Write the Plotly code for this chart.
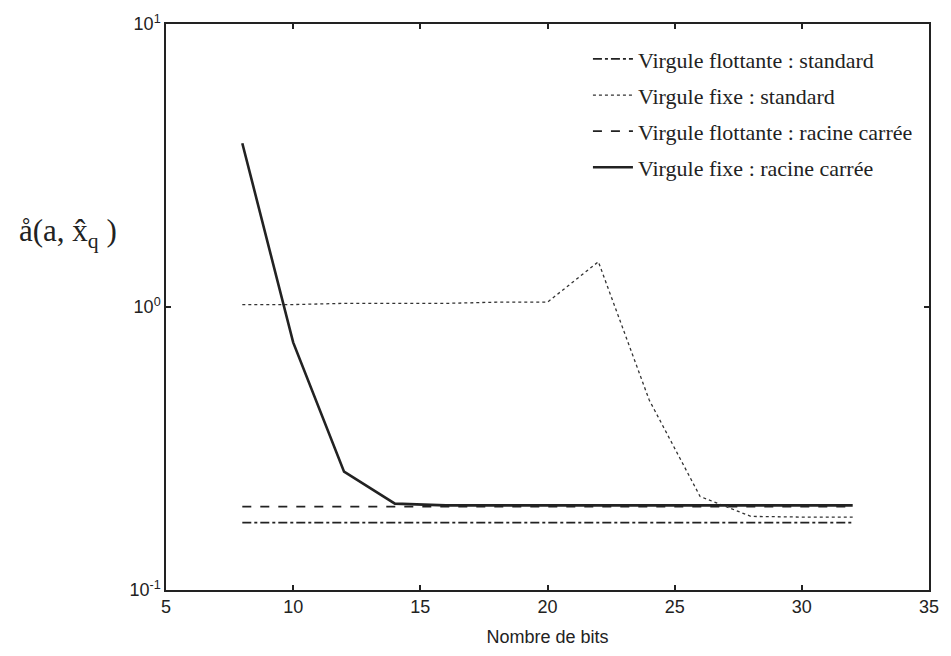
import plotly.graph_objects as go

# Nombre de bits
bits = [8, 10, 12, 14, 16, 18, 20, 22, 24, 26, 28, 30, 32]

# Erreur pour chaque représentation / algorithme
flottante_standard = [0.173] * 13
fixe_standard = [1.02, 1.02, 1.03, 1.03, 1.03, 1.04, 1.04, 1.445, 0.469, 0.214, 0.182, 0.181, 0.181]
flottante_racine = [0.197] * 13
fixe_racine = [3.79, 0.75, 0.262, 0.202, 0.199, 0.199, 0.199, 0.199, 0.199, 0.199, 0.199, 0.199, 0.199]

series = [
    ("Virgule flottante : standard", flottante_standard, "dashdot", 1.8, "#222"),
    ("Virgule fixe : standard", fixe_standard, "dot", 1.3, "#333"),
    ("Virgule flottante : racine carrée", flottante_racine, "dash", 1.8, "#222"),
    ("Virgule fixe : racine carrée", fixe_racine, "solid", 2.6, "#222"),
]

fig = go.Figure()
for i, (name, vals, dash, w, col) in enumerate(series):
    fig.add_trace(go.Scatter(
        x=bits, y=vals, mode="lines", name=name, legendgroup=str(i),
        line=dict(dash=dash, width=w, color=col),
    ))

tick_font = dict(family="Liberation Sans, Arial, sans-serif", size=18, color="#222")

fig.update_layout(
    width=951, height=656,
    margin=dict(l=166, r=20, t=22, b=65),
    plot_bgcolor="white", paper_bgcolor="white",
    showlegend=True,
    legend=dict(
        x=0.553, y=0.975, xanchor="left", yanchor="top",
        bgcolor="rgba(0,0,0,0)",
        font=dict(family="Liberation Serif, Times New Roman, serif", size=22, color="#222"),
        tracegroupgap=4.5, itemwidth=40,
    ),
    xaxis=dict(
        range=[5, 35], tickvals=[5, 10, 15, 20, 25, 30, 35],
        showgrid=False, zeroline=False,
        showline=True, linecolor="#222", linewidth=1.5, mirror="ticks",
        ticks="inside", ticklen=5, tickcolor="#222", tickwidth=1.5,
        tickfont=tick_font,
        title=dict(text="Nombre de bits", font=tick_font, standoff=14),
    ),
    yaxis=dict(
        type="log", range=[-1, 1],
        tickvals=[0.1, 1, 10], ticktext=["10<sup>-1</sup>", "10<sup>0</sup>", "10<sup>1</sup>"],
        showgrid=False, zeroline=False,
        showline=True, linecolor="#222", linewidth=1.5, mirror="ticks",
        ticks="inside", ticklen=5, tickcolor="#222", tickwidth=1.5,
        tickfont=tick_font,
    ),
)

fig.add_annotation(
    text="å(a, x\u0302<sub>q</sub> )",
    xref="paper", yref="paper", x=-0.195, y=0.631,
    xanchor="left", yanchor="middle", showarrow=False,
    font=dict(family="Liberation Serif, Times New Roman, serif", size=31, color="#222"),
)

fig.write_html("out.html")
